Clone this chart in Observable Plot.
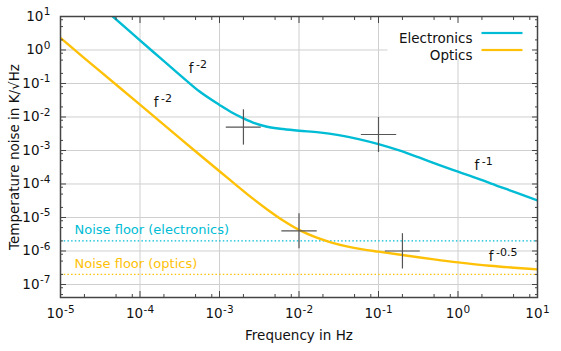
<!DOCTYPE html>
<html><head><meta charset="utf-8">
<script src="https://cdn.jsdelivr.net/npm/d3@7"></script>
<script src="https://cdn.jsdelivr.net/npm/@observablehq/plot@0.6"></script>
<style>
body{margin:0;background:#fff;}
svg{font-family:"DejaVu Sans",sans-serif;}
</style>
</head><body><div id="chart"></div>
<script>
// ---- data ----
const seriesNames = ["Electronics", "Optics"];
const seriesColors = ["#00bcd4", "#ffc107"];

const elecF = [4.55e-5, 1e-4, 1.78e-4, 3.16e-4, 5.62e-4, 1e-3, 1.41e-3, 2.0e-3, 2.82e-3, 3.98e-3, 6.31e-3, 1e-2, 1.78e-2, 3.16e-2, 5.62e-2, 0.1, 0.178, 0.316, 0.562, 1, 1.78, 3.16, 5.62, 10];
const elecT = [10, 1.95, 0.589, 0.182, 0.0575, 0.0229, 0.0138, 9.12e-3, 6.46e-3, 5.13e-3, 4.37e-3, 3.89e-3, 3.47e-3, 2.88e-3, 2.19e-3, 1.55e-3, 1.02e-3, 6.31e-4, 3.80e-4, 2.34e-4, 1.45e-4, 8.71e-5, 5.37e-5, 3.24e-5];

const optF = [1e-5, 3.16e-5, 1e-4, 3.16e-4, 1e-3, 1.58e-3, 2.51e-3, 3.98e-3, 6.31e-3, 1e-2, 1.58e-2, 2.51e-2, 3.98e-2, 6.31e-2, 0.1, 0.2, 0.5, 1, 2.51, 10];
const optT = [2.29, 0.229, 0.0234, 2.34e-3, 2.40e-4, 9.77e-5, 3.98e-5, 1.74e-5, 8.13e-6, 4.27e-6, 2.63e-6, 1.82e-6, 1.38e-6, 1.12e-6, 9.55e-7, 7.59e-7, 5.62e-7, 4.57e-7, 3.63e-7, 2.82e-7];

const floorNames = ["Noise floor (electronics)", "Noise floor (optics)"];
const floorValues = [2e-6, 2e-7];

const crossF = [2e-3, 0.1, 0.01, 0.2];
const crossFLow = [1.2e-3, 0.06, 6e-3, 0.12];
const crossFHigh = [3.3e-3, 0.167, 1.67e-2, 0.33];
const crossT = [5e-3, 3e-3, 4e-6, 1e-6];
const crossTLow = [1.5e-3, 9e-4, 1.2e-6, 3e-7];
const crossTHigh = [1.7e-2, 1e-2, 1.35e-5, 3.4e-6];

const slopeText = ["f^-2", "f^-2", "f^-1", "f^-0.5"];
const slopeF = [4.11e-4, 1.49e-4, 1.61, 2.44];
const slopeT = [0.286, 0.0271, 3.49e-4, 6.85e-7];

const xTicks = [1e-5, 1e-4, 1e-3, 1e-2, 1e-1, 1, 10];
const yTicks = [1e-7, 1e-6, 1e-5, 1e-4, 1e-3, 1e-2, 1e-1, 1, 10];
const minorSteps = [2, 5, 8];
const xDomain = [1e-5, 10];
const yDomain = [4.09e-8, 10];

const xLabel = "Frequency in Hz";
const yLabel = "Temperature noise in K/√Hz";

// ---- derived tables ----
const elec = elecF.map((f, i) => ({f, t: elecT[i]}));
const opt = optF.map((f, i) => ({f, t: optT[i]}));
const floors = floorNames.map((name, i) => ({name, value: floorValues[i], color: seriesColors[i]}));
const crosses = crossF.map((f, i) => ({f, flo: crossFLow[i], fhi: crossFHigh[i], t: crossT[i], tlo: crossTLow[i], thi: crossTHigh[i]}));
const slopes = slopeText.map((text, i) => ({text, f: slopeF[i], t: slopeT[i]}));
const inDom = (d, dom) => d >= dom[0] * 0.999 && d <= dom[1] * 1.001;
const xMinor = [xTicks[0] / 10, ...xTicks].flatMap(d => minorSteps.map(m => d * m)).filter(d => inDom(d, xDomain));
const yMinor = [yTicks[0] / 10, ...yTicks].flatMap(d => minorSteps.map(m => d * m)).filter(d => inDom(d, yDomain));
const fmt = d => "10^" + Math.round(Math.log10(d));

const axisColor = "#444";
const tickMarks = [];
for (const anchor of ["bottom", "top"]) tickMarks.push(Plot.axisX(xTicks, {anchor, tickSize: -6, tickFormat: () => "", stroke: axisColor, label: null}));
for (const anchor of ["bottom", "top"]) tickMarks.push(Plot.axisX(xMinor, {anchor, tickSize: -3, tickFormat: () => "", stroke: axisColor, label: null}));
for (const anchor of ["left", "right"]) tickMarks.push(Plot.axisY(yTicks, {anchor, tickSize: -6, tickFormat: () => "", stroke: axisColor, label: null}));
for (const anchor of ["left", "right"]) tickMarks.push(Plot.axisY(yMinor, {anchor, tickSize: -3, tickFormat: () => "", stroke: axisColor, label: null}));

const chart = Plot.plot({
  width: 561,
  height: 351,
  marginLeft: 60,
  marginRight: 24,
  marginTop: 16,
  marginBottom: 54,
  style: {fontFamily: "DejaVu Sans, sans-serif", fontSize: "13px", color: "#111", background: "white"},
  x: {type: "log", domain: xDomain, label: null},
  y: {type: "log", domain: yDomain, label: null},
  color: {type: "identity"},
  marks: [
    Plot.gridX(xTicks, {stroke: "#cfcfcf", strokeOpacity: 1, strokeWidth: 1}),
    Plot.gridY(yTicks, {stroke: "#cfcfcf", strokeOpacity: 1, strokeWidth: 1}),
    // legend background
    Plot.frame({fill: "white", stroke: null, insetLeft: 327, insetRight: 2, insetTop: 1, insetBottom: 238.5}),
    Plot.ruleY(floors, {y: "value", stroke: "color", strokeWidth: 1.2, strokeDasharray: "1.5,2.2"}),
    Plot.text(floors, {y: "value", text: "name", fill: "color", frameAnchor: "left", textAnchor: "start", dx: 14, dy: -11, fontSize: 13}),
    Plot.line(elec, {x: "f", y: "t", stroke: seriesColors[0], strokeWidth: 2.4, curve: "catmull-rom", clip: true}),
    Plot.line(opt, {x: "f", y: "t", stroke: seriesColors[1], strokeWidth: 2.4, curve: "catmull-rom", clip: true}),
    Plot.link(crosses, {x1: "flo", x2: "fhi", y1: "t", y2: "t", stroke: "#555", strokeWidth: 1.2}),
    Plot.link(crosses, {x1: "f", x2: "f", y1: "tlo", y2: "thi", stroke: "#555", strokeWidth: 1.2}),
    Plot.text(slopes, {x: "f", y: "t", text: "text", textAnchor: "start", fontSize: 13.5, fill: "#111"}),
    // legend
    ...seriesNames.map((name, i) => Plot.text([name], {text: d => d, frameAnchor: "top-right", textAnchor: "end", dx: -65, dy: 16.6 + 17 * i, fontSize: 13.5, fill: "#111"})),
    ...seriesNames.map((name, i) => Plot.frame({fill: seriesColors[i], stroke: null, insetLeft: 421, insetRight: 15, insetTop: 15.4 + 17 * i, insetBottom: 263.4 - 17 * i})),
    // axes
    Plot.frame({stroke: axisColor, strokeWidth: 1.5}),
    ...tickMarks,
    Plot.axisX(xTicks, {anchor: "bottom", tickSize: 0, tickPadding: 11, tickFormat: fmt, label: null, fontSize: 13.5, fill: "#111"}),
    Plot.axisY(yTicks, {anchor: "left", tickSize: 0, tickPadding: 10, tickFormat: fmt, label: null, fontSize: 13.5, fill: "#111"}),
    Plot.text([xLabel], {text: d => d, frameAnchor: "bottom", dy: 42, fontSize: 13.5, fill: "#111"}),
    Plot.text([yLabel], {text: d => d, frameAnchor: "left", textAnchor: "middle", rotate: -90, dx: -46, fontSize: 13.5, fill: "#111"})
  ]
});

// superscripts: "base^exp" -> base + raised tspan
d3.select(chart).selectAll("text").each(function () {
  const s = this.textContent;
  const m = s.match(/^(.*)\^(.*)$/);
  if (!m) return;
  const isTick = m[1] === "10";
  this.textContent = "";
  this.appendChild(document.createTextNode(m[1]));
  const ts = document.createElementNS("http://www.w3.org/2000/svg", "tspan");
  ts.setAttribute("dy", isTick ? "-5.5" : "-5");
  ts.setAttribute("dx", isTick ? "0.5" : "2.5");
  ts.setAttribute("font-size", isTick ? "10.5" : "11");
  ts.textContent = m[2];
  this.appendChild(ts);
});

document.getElementById("chart").appendChild(chart);
</script>
</body></html>
